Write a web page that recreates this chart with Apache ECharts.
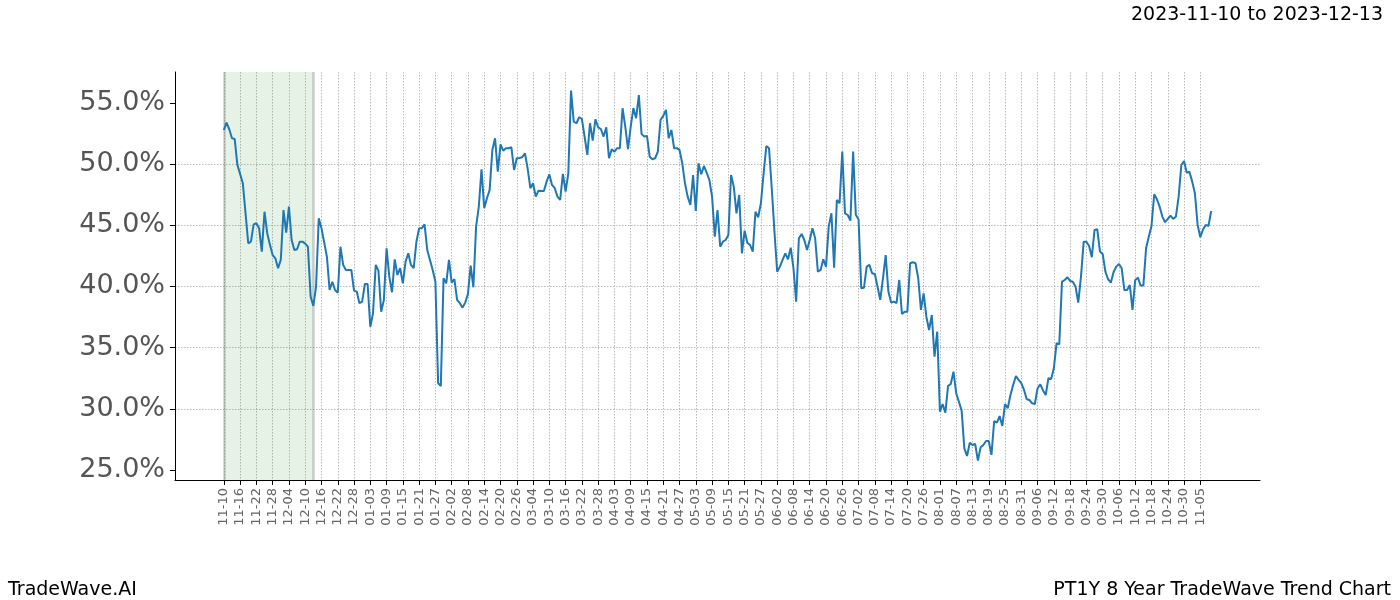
<!DOCTYPE html>
<html>
<head>
<meta charset="utf-8">
<script src="https://cdn.jsdelivr.net/npm/echarts@6/dist/echarts.min.js"></script>
<style>
html,body{margin:0;padding:0;background:#fff;}
#chart{width:1400px;height:600px;}
</style>
</head>
<body>
<div id="chart"></div>
<script>
// ---- data ----
const axisStart = '2022-10-23';      // first (empty) category at the left edge of the plot
const axisDays = 401;                // number of daily categories on the x axis
const seriesStart = '2022-11-10';    // date of the first value
const labelFirst = '2022-11-10';
const labelLast = '2023-11-05';
const labelStepDays = 6;
const shadeFrom = '2022-11-10';
const shadeTo = '2022-12-13';
const yTicks = [25, 30, 35, 40, 45, 50, 55];
const titleText = '2023-11-10 to 2023-12-13';
const footLeft = 'TradeWave.AI';
const footRight = 'PT1Y 8 Year TradeWave Trend Chart';
const values = [
52.79,53.39,52.85,52.11,52.06,49.93,49.2,48.44,46.0,43.53,
43.66,45.08,45.17,44.76,42.85,46.11,44.35,43.4,42.57,42.30,
41.49,42.17,46.25,44.40,46.52,43.80,42.98,43.04,43.66,43.66,
43.5,43.25,39.17,38.41,39.98,45.57,44.76,43.6,42.44,39.71,
40.39,39.71,39.49,43.25,41.76,41.35,41.35,41.35,39.66,39.58,
38.63,38.76,40.20,40.20,36.71,37.81,41.76,41.29,37.94,38.90,
43.12,40.80,39.53,42.22,40.94,41.49,40.26,42.03,42.71,41.76,
41.49,43.66,44.76,44.76,45.08,42.98,42.17,41.35,40.39,32.09,
31.87,40.67,40.26,42.17,40.31,40.59,38.90,38.63,38.27,38.68,
39.39,41.70,39.93,44.89,46.52,49.58,46.39,47.21,47.89,51.16,
52.11,49.38,51.62,51.10,51.30,51.3,51.38,49.52,50.48,50.5,
50.56,50.89,49.66,48.03,48.44,47.34,47.83,47.8,47.81,48.57,
49.17,48.30,48.03,47.34,47.07,49.20,47.75,49.25,56.01,53.47,
53.34,53.83,53.69,52.25,50.75,53.34,51.92,53.67,53.01,52.87,
52.25,53.01,50.48,51.22,51.02,51.30,51.30,54.57,53.07,51.22,
53.07,54.57,53.75,55.65,52.47,52.25,52.30,50.61,50.40,50.48,
51.02,53.61,53.94,54.43,52.11,52.79,51.30,51.30,51.16,50.07,
48.44,47.34,46.66,49.11,46.17,50.07,49.17,49.85,49.30,48.71,
47.34,44.07,46.25,43.25,43.66,43.80,44.21,49.11,48.16,45.98,
47.48,42.71,44.56,43.58,43.39,42.85,46.11,45.66,46.80,49.25,
51.48,51.30,48.03,44.48,41.21,41.62,42.17,42.71,42.22,43.17,
41.49,38.76,43.94,44.29,43.80,42.98,43.80,44.76,43.94,41.21,
41.35,42.22,41.62,44.89,45.98,41.54,47.07,46.80,51.02,45.98,
45.84,45.38,51.02,45.84,45.49,39.85,39.90,41.62,41.76,41.08,
41.02,39.98,38.90,40.67,42.57,39.58,38.68,38.76,38.63,40.53,
37.75,37.94,37.94,41.90,41.98,41.90,40.67,38.08,39.44,37.53,
36.44,37.67,34.26,36.30,29.76,30.39,29.68,31.87,32.03,33.04,
31.27,30.58,29.85,26.77,26.14,27.23,27.04,27.12,25.76,26.85,
27.04,27.37,27.37,26.23,29.00,28.87,29.41,28.60,30.39,30.04,
31.13,31.95,32.68,32.36,32.09,31.54,30.78,30.72,30.45,30.39,
31.68,32.00,31.5,31.13,32.50,32.44,33.31,35.36,35.27,40.39,
40.53,40.75,40.45,40.39,39.98,38.68,40.81,43.66,43.66,43.31,
42.39,44.62,44.68,42.85,42.66,41.21,40.59,40.31,41.16,41.62,
41.84,41.49,39.71,39.71,40.12,38.08,40.53,40.72,40.07,40.07,
43.12,44.07,44.94,47.54,47.13,46.52,45.71,45.25,45.52,45.79,
45.52,45.71,47.34,49.93,50.26,49.30,49.38,48.57,47.62,45.03,
44.02,44.68,45.03,44.94,46.17
];

// ---- helpers ----
const DAY = 86400000;
function parseD(s){ const p = s.split('-').map(Number); return Date.UTC(p[0], p[1]-1, p[2]); }
function fmtD(t){ return new Date(t).toISOString().slice(0,10); }
const t0 = parseD(axisStart);
const categories = [];
for (let i = 0; i < axisDays; i++) categories.push(fmtD(t0 + i*DAY));
const s0 = parseD(seriesStart);
const seriesData = values.map((v, i) => [fmtD(s0 + i*DAY), v]);
const firstIdx = categories.indexOf(labelFirst);
const lastIdx = categories.indexOf(labelLast);
function onTick(idx){ return idx >= firstIdx && idx <= lastIdx && (idx - firstIdx) % labelStepDays === 0; }

const chart = echarts.init(document.getElementById('chart'), null, {renderer: 'canvas'});
const FONT = 'DejaVu Sans';
chart.setOption({
  animation: false,
  backgroundColor: '#ffffff',
  textStyle: {fontFamily: FONT},
  title: [
    {text: titleText, right: 12, top: 1, textStyle: {fontFamily: FONT, fontSize: 19, fontWeight: 'normal', color: '#000'}},
    {text: footLeft, left: 3, top: 576, textStyle: {fontFamily: FONT, fontSize: 19, fontWeight: 'normal', color: '#000'}},
    {text: footRight, right: 4, top: 576, textStyle: {fontFamily: FONT, fontSize: 19, fontWeight: 'normal', color: '#000'}}
  ],
  grid: {left: 175, right: 140, top: 72, bottom: 120, containLabel: false},
  xAxis: {
    type: 'category',
    data: categories,
    boundaryGap: false,
    axisLine: {show: true, lineStyle: {color: '#000', width: 1}},
    axisTick: {show: true, interval: (i) => onTick(i), length: 5, lineStyle: {color: '#000'}},
    axisLabel: {
      show: true, interval: (i) => onTick(i), rotate: 90, margin: 8,
      fontFamily: FONT, fontSize: 13, color: '#666',
      formatter: (v) => v.slice(5)
    },
    splitLine: {show: true, interval: (i) => onTick(i), lineStyle: {color: '#aaa', width: 0.8, type: [1.5, 1.5]}}
  },
  yAxis: {
    type: 'value',
    min: 24.18,
    max: 57.53,
    axisLine: {show: true, lineStyle: {color: '#000', width: 1}},
    axisTick: {show: true, length: 5, customValues: yTicks, lineStyle: {color: '#000'}},
    axisLabel: {show: true, customValues: yTicks, margin: 10, fontFamily: FONT, fontSize: 27, color: '#555',
      formatter: (v) => v.toFixed(1) + '%'},
    splitLine: {show: true, showMinLine: false, showMaxLine: false, lineStyle: {color: '#aaa', width: 0.8, type: [1.5, 1.5]}}
  },
  series: [{
    type: 'line',
    data: seriesData,
    showSymbol: false,
    symbol: 'none',
    lineStyle: {color: '#1f77b4', width: 2},
    z: 5,
    markArea: {
      silent: true,
      itemStyle: {color: 'rgba(0,128,0,0.1)'},
      data: [[{xAxis: shadeFrom}, {xAxis: shadeTo}]]
    },
    markLine: {
      silent: true,
      symbol: 'none',
      label: {show: false},
      lineStyle: {color: 'rgba(120,120,120,0.35)', width: 2.5, type: 'solid'},
      data: [{xAxis: shadeFrom}, {xAxis: shadeTo}]
    }
  }]
});
</script>
</body>
</html>
